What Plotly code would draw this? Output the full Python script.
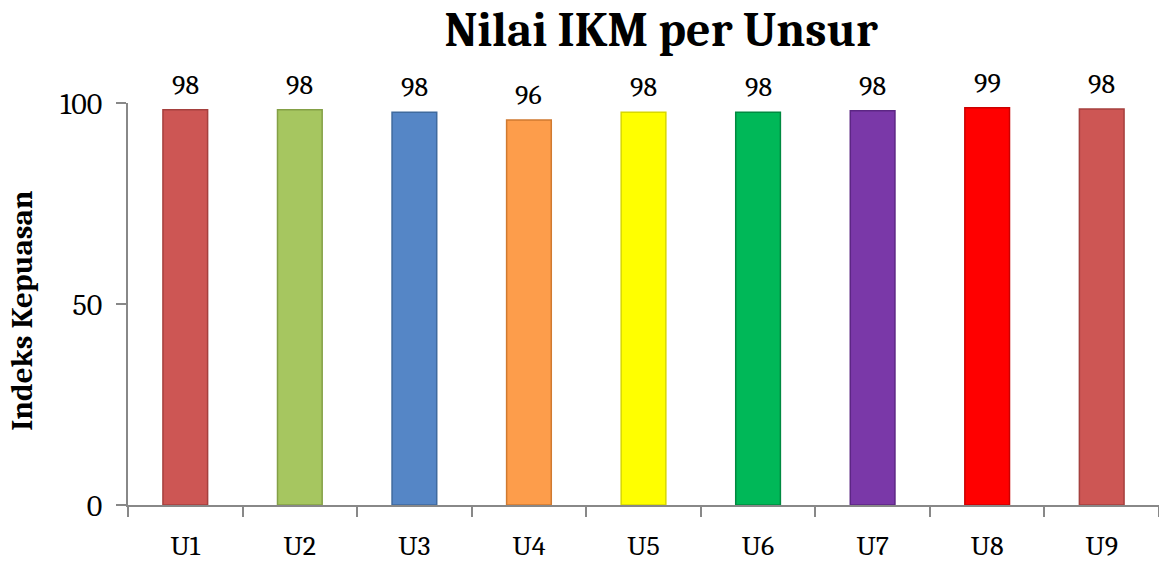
import plotly.graph_objects as go

categories = ["U1", "U2", "U3", "U4", "U5", "U6", "U7", "U8", "U9"]
values = [98.3, 98.3, 97.7, 95.8, 97.7, 97.7, 98.1, 98.8, 98.5]
labels = ["98", "98", "98", "96", "98", "98", "98", "99", "98"]
colors = ["#CD5654", "#A6C660", "#5586C6", "#FD9D4B", "#FFFF00",
          "#00B858", "#7A38A8", "#FF0000", "#CD5654"]
edge_colors = ["#A5403E", "#84A046", "#3F6A9E", "#D07A30", "#D8D800",
               "#008A40", "#5C2684", "#CC0000", "#A5403E"]
y_ticks = [0, 50, 100]

serif = "Cambria, Caladea, 'DejaVu Serif', serif"

fig = go.Figure()
fig.add_trace(go.Bar(
    x=categories, y=values,
    marker=dict(color=colors, line=dict(color=edge_colors, width=1.5)),
    width=0.39,
))

for c, v, t in zip(categories, values, labels):
    fig.add_annotation(x=c, y=v, text=t, showarrow=False, yanchor="bottom",
                       yshift=7, font=dict(family=serif, size=28, color="#000000"))

fig.add_annotation(text="<b>Indeks Kepuasan</b>", xref="paper", yref="paper",
                   x=-0.1028, y=0.483, xanchor="center", yanchor="middle",
                   textangle=-90, showarrow=False,
                   font=dict(family=serif, size=31, color="#000000"))

fig.update_layout(
    width=1159, height=564,
    paper_bgcolor="white", plot_bgcolor="white",
    margin=dict(l=128, r=0, t=103, b=59),
    showlegend=False,
    title=dict(text="<b>Nilai IKM per Unsur</b>", x=0.517, xref="paper", xanchor="center",
               y=0.949, yanchor="middle",
               font=dict(family=serif, size=48, color="#000000")),
    xaxis=dict(
        showline=True, linecolor="#888888", linewidth=1.5,
        ticks="outside", ticklen=10, tickcolor="#888888", tickwidth=1.5,
        tickson="boundaries", ticklabelstandoff=15,
        tickfont=dict(family=serif, size=28, color="#000000"),
        showgrid=False,
    ),
    yaxis=dict(
        range=[0, 100], tickvals=y_ticks,
        showline=True, linecolor="#888888", linewidth=1.5,
        ticks="outside", ticklen=10, tickcolor="#888888", tickwidth=1.5,
        ticklabelstandoff=8,
        tickfont=dict(family=serif, size=30, color="#000000"),
        showgrid=False, zeroline=False,
    ),
)

fig.write_html("out.html",
               config={"displayModeBar": False},
               post_script="document.body.style.margin='0';document.body.style.overflow='hidden';")
